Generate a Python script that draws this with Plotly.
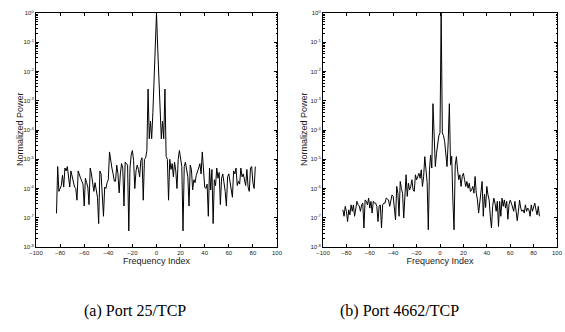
import plotly.graph_objects as go

# ---------------- data (log10 of normalized power) ----------------
freq_a = list(range(-83, 83))
log_power_a = [
    -6.85, -5.25, -6.1, -6.0, -5.9, -5.55, -5.95, -5.3, -5.4, -5.25,
    -5.7, -5.95, -5.4, -5.6, -5.8, -5.95, -6.0, -6.4, -5.4, -5.55,
    -5.65, -5.75, -5.85, -6.6, -5.65, -5.8, -5.95, -6.55, -5.3, -5.5,
    -5.8, -6.1, -5.8, -6.0, -6.3, -7.2, -5.4, -5.5, -6.15, -6.95,
    -5.95, -6.0, -5.8, -5.7, -4.75, -5.1, -5.3, -5.5, -5.75, -5.75,
    -5.2, -5.5, -6.15, -5.5, -5.15, -5.3, -6.6, -5.1, -5.15, -5.2,
    -7.45, -5.3, -4.85, -4.7, -5.05, -6.0, -5.4, -5.2, -5.35, -5.6,
    -5.05, -4.95, -6.4, -5.0, -4.95, -4.7, -2.6, -4.3, -3.7, -4.3,
    -3.4, -2.3, -1.2, 0.0, -1.2, -2.3, -3.4, -4.3, -3.7, -4.3,
    -2.6, -4.9, -5.0, -6.4, -5.0, -5.35, -5.15, -5.6, -5.1, -5.4,
    -6.0, -5.0, -4.7, -5.05, -5.25, -7.45, -5.25, -5.1, -5.35, -5.6,
    -6.6, -5.2, -5.35, -6.05, -5.7, -5.8, -5.55, -5.45, -5.3, -5.15,
    -5.5, -4.75, -5.3, -5.95, -6.0, -5.85, -6.95, -5.3, -6.05, -5.35,
    -7.2, -5.7, -5.9, -5.3, -5.65, -5.45, -6.55, -5.65, -5.5, -5.8,
    -6.1, -6.6, -5.6, -5.5, -5.8, -6.0, -6.3, -5.4, -5.5, -5.3,
    -5.9, -5.75, -5.85, -5.3, -5.6, -5.5, -5.75, -5.9, -5.35, -5.95,
    -6.1, -5.3, -5.25, -5.8, -6.0, -5.25,
]

freq_b = list(range(-83, 86))
log_power_b = [
    -6.73, -6.95, -6.61, -6.78, -7.13, -6.73, -6.9, -6.56, -6.78, -6.56,
    -6.95, -6.67, -6.44, -6.55, -6.6, -6.78, -6.56, -6.5, -7.35, -6.39,
    -6.44, -6.56, -6.33, -6.67, -6.44, -6.84, -6.44, -6.5, -6.5, -6.61,
    -7.13, -6.6, -6.56, -7.35, -6.56, -6.5, -6.5, -6.33, -6.36, -6.39,
    -6.61, -6.4, -6.22, -6.27, -6.7, -7.07, -5.93, -6.16, -6.95, -5.76,
    -6.0, -6.16, -7.01, -5.93, -5.53, -6.27, -5.82, -6.05, -5.93, -5.7,
    -6.05, -6.1, -5.53, -5.7, -5.55, -5.48, -5.65, -5.36, -5.93, -5.6,
    -4.91, -5.36, -5.8, -7.41, -5.36, -4.86, -5.3, -3.1, -4.4, -5.25,
    -4.8, -4.4, -4.2, -4.1, 0.0, -4.1, -4.2, -4.4, -4.8, -5.25,
    -4.4, -3.1, -5.2, -4.9, -6.4, -7.41, -5.2, -4.91, -5.36, -5.7,
    -5.53, -5.93, -5.59, -5.48, -5.7, -5.93, -5.76, -5.99, -5.82, -6.1,
    -6.05, -5.93, -6.16, -5.59, -6.16, -6.39, -6.84, -6.5, -6.2, -5.76,
    -6.95, -6.2, -6.65, -5.93, -6.22, -6.39, -6.95, -7.35, -6.61, -6.33,
    -6.5, -6.78, -6.44, -7.3, -6.44, -6.95, -6.33, -6.61, -6.39, -6.67,
    -6.44, -7.05, -6.55, -6.4, -6.5, -6.67, -6.78, -6.44, -6.73, -7.1,
    -6.78, -6.4, -6.67, -6.78, -6.73, -6.84, -6.56, -6.78, -6.67, -6.73,
    -6.95, -6.56, -6.78, -6.61, -6.5, -6.73, -6.9, -6.61, -6.95,
]

x_ticks = [-100, -80, -60, -40, -20, 0, 20, 40, 60, 80, 100]
y_exponents = [-8, -7, -6, -5, -4, -3, -2, -1, 0]
captions = ["(a) Port 25/TCP", "(b) Port 4662/TCP"]
x_title = "Frequency Index"
y_title = "Normalized Power"

power_a = [10 ** v for v in log_power_a]
power_b = [10 ** v for v in log_power_b]

W, H = 565, 332
FONT = "Liberation Sans, Arial, sans-serif"
TXT = "#222"

fig = go.Figure()
fig.add_trace(go.Scatter(x=freq_a, y=power_a, mode="lines",
                         line=dict(color="black", width=1), xaxis="x", yaxis="y",
                         showlegend=False, hoverinfo="skip"))
fig.add_trace(go.Scatter(x=freq_b, y=power_b, mode="lines",
                         line=dict(color="black", width=1), xaxis="x2", yaxis="y2",
                         showlegend=False, hoverinfo="skip"))

minor_vals = [m * 10 ** e for e in y_exponents[:-1] for m in range(2, 10)]
ytickvals = [10 ** e for e in y_exponents]
yticktext = ["10<sup>%d</sup>" % e for e in y_exponents]

def xaxis_cfg(domain, anchor):
    return dict(domain=domain, anchor=anchor, range=[-100, 100], automargin=False,
                tickmode="array", tickvals=x_ticks, ticktext=[str(v).replace("-", "\u2212") for v in x_ticks],
                ticks="inside", ticklen=3, tickwidth=1, tickcolor="black",
                showline=True, linecolor="black", linewidth=1, mirror="ticks",
                showgrid=False, zeroline=False,
                tickfont=dict(family=FONT, size=6, color=TXT),
                title=dict(text=x_title, font=dict(family=FONT, size=9, color=TXT), standoff=2))

def yaxis_cfg(domain, anchor):
    return dict(domain=domain, anchor=anchor, type="log", range=[-8, 0], automargin=False,
                tickmode="array", tickvals=ytickvals, ticktext=yticktext,
                ticks="inside", ticklen=3, tickwidth=1, tickcolor="black",
                minor=dict(tickmode="array", tickvals=minor_vals, ticks="inside",
                           ticklen=1.5, tickcolor="black", showgrid=False),
                showline=True, linecolor="black", linewidth=1, mirror="ticks",
                showgrid=False, zeroline=False,
                tickfont=dict(family=FONT, size=6, color=TXT))

ytop = 1 - 13 / H
ybot = 1 - 247 / H
fig.update_layout(
    template="none",
    width=W, height=H,
    margin=dict(l=0, r=0, t=0, b=0),
    paper_bgcolor="white", plot_bgcolor="white",
    xaxis=xaxis_cfg([36 / W, 277 / W], "y"),
    yaxis=yaxis_cfg([ybot, ytop], "x"),
    xaxis2=xaxis_cfg([323 / W, 557 / W], "y2"),
    yaxis2=yaxis_cfg([ybot, ytop], "x2"),
)

for tx in [20, 304]:
    fig.add_annotation(x=tx / W, y=1 - 129 / H, xref="paper", yref="paper",
                       text=y_title, textangle=-90, showarrow=False,
                       xanchor="center", yanchor="middle",
                       font=dict(family=FONT, size=9, color=TXT))

for cx, text in zip([135, 399], captions):
    fig.add_annotation(x=cx / W, y=1 - 311 / H, xref="paper", yref="paper",
                       text=text, showarrow=False, xanchor="center", yanchor="middle",
                       font=dict(family="Liberation Serif, Times New Roman, serif", size=16, color="black"))

fig.write_html("out.html", config={"displayModeBar": False, "staticPlot": True},
               post_script="document.body.style.margin='0';document.body.style.overflow='hidden';")
